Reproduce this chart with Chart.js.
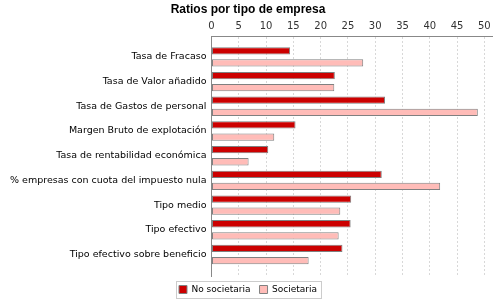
<!doctype html>
<html>
<head>
	<meta charset="utf-8">
	<title>Ratios por tipo de empresa</title>
	<script src="https://cdn.jsdelivr.net/npm/chart.js@4"></script>
	<style>
	html, body { margin: 0; padding: 0; background: #fff; }
	#wrap { width: 500px; height: 300px; }
	</style>
</head>
<body>
	<div id="wrap"><canvas id="canvas"></canvas></div>
	<script>
		const categories = [
			'Tasa de Fracaso',
			'Tasa de Valor añadido',
			'Tasa de Gastos de personal',
			'Margen Bruto de explotación',
			'Tasa de rentabilidad económica',
			'% empresas con cuota del impuesto nula',
			'Tipo medio',
			'Tipo efectivo',
			'Tipo efectivo sobre beneficio'
		];
		const noSocietaria = [14.4, 22.6, 31.8, 15.4, 10.4, 31.2, 25.6, 25.5, 24.0];
		const societaria = [27.8, 22.5, 48.8, 11.5, 6.8, 41.9, 23.6, 23.3, 17.8];
		const xTicks = [0, 5, 10, 15, 20, 25, 30, 35, 40, 45, 50];

		// the y axis is linear so the plot can keep a margin above the first category
		const toPoints = arr => arr.map((v, i) => ({ x: v, y: i }));

		// box round the legend, like the original
		const legendBox = {
			id: 'legendBox',
			afterDraw(chart) {
				const lg = chart.legend;
				if (!lg || !lg.legendHitBoxes.length) return;
				const boxes = lg.legendHitBoxes;
				const x1 = boxes[0].left - 3;
				const last = boxes[boxes.length - 1];
				const x2 = last.left + last.width + 4;
				const y1 = boxes[0].top - 4;
				const y2 = boxes[0].top + boxes[0].height + 4;
				const c = chart.ctx;
				c.save();
				c.strokeStyle = '#cccccc';
				c.lineWidth = 1;
				c.strokeRect(Math.round(x1) + 0.5, Math.round(y1) + 0.5, Math.round(x2 - x1), Math.round(y2 - y1));
				c.restore();
			}
		};

		const ctx = document.getElementById('canvas').getContext('2d');
		window.myChart = new Chart(ctx, {
			type: 'bar',
			data: {
				datasets: [{
					label: 'No societaria',
					data: toPoints(noSocietaria),
					backgroundColor: '#cc0000',
					borderColor: '#808080',
					borderWidth: 1,
					borderSkipped: false,
					categoryPercentage: 0.98,
					barPercentage: 0.6
				}, {
					label: 'Societaria',
					data: toPoints(societaria),
					backgroundColor: '#ffbcb8',
					borderColor: '#808080',
					borderWidth: 1,
					borderSkipped: false,
					categoryPercentage: 0.98,
					barPercentage: 0.6
				}]
			},
			options: {
				indexAxis: 'y',
				responsive: true,
				maintainAspectRatio: false,
				animation: false,
				layout: { padding: { left: 4, right: 8, top: 0, bottom: -4 } },
				scales: {
					x: {
						type: 'linear',
						position: 'top',
						min: 0,
						max: 51.4,
						afterBuildTicks(scale) {
							scale.ticks = xTicks.map(v => ({ value: v }));
						},
						afterFit(scale) {
							scale.height = 19.6;
						},
						ticks: {
							color: '#333',
							font: { family: 'DejaVu Sans', size: 10 },
							padding: 4
						},
						grid: {
							color: '#d8d8d8',
							drawTicks: false
						},
						border: { color: '#888', dash: [2, 2] }
					},
					y: {
						type: 'linear',
						reverse: true,
						offset: false,
						min: -0.845,
						max: 8.87,
						afterBuildTicks(scale) {
							scale.ticks = categories.map((c, i) => ({ value: i }));
						},
						afterFit(scale) {
							scale.width = 207.5;
						},
						grid: { display: false, drawTicks: false, tickLength: 0, offset: false },
						border: { color: '#888' },
						ticks: {
							color: '#000',
							font: { family: 'DejaVu Sans', size: 9.5 },
							padding: 5,
							callback: v => categories[v]
						}
					}
				},
				plugins: {
					title: {
						display: true,
						text: 'Ratios por tipo de empresa',
						color: '#000',
						font: { family: 'Liberation Sans', size: 12, weight: 'bold' },
						padding: { top: 2, bottom: 0 }
					},
					legend: {
						position: 'bottom',
						labels: {
							color: '#000',
							boxWidth: 8,
							boxHeight: 8,
							padding: 9,
							font: { family: 'DejaVu Sans', size: 9 }
						}
					},
					tooltip: { enabled: false }
				}
			},
			plugins: [legendBox]
		});
	</script>
</body>
</html>
